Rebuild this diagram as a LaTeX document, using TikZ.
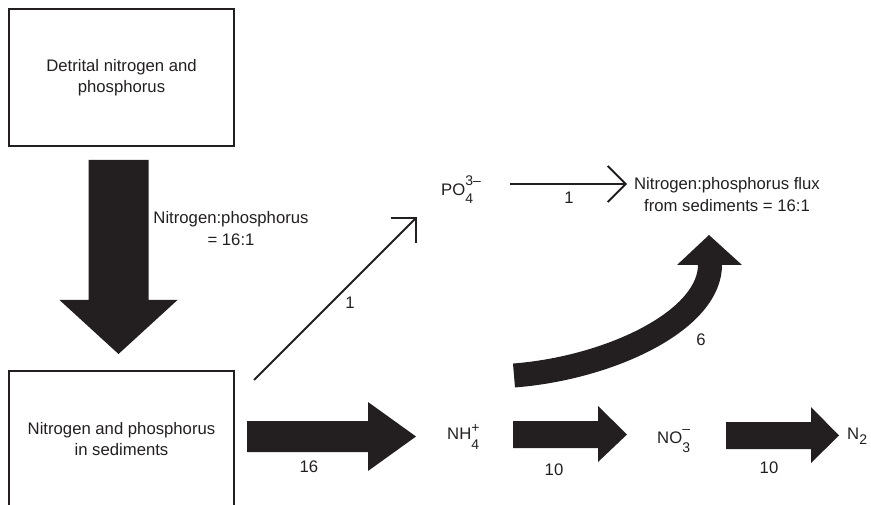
\documentclass[tikz,border=0pt]{standalone}
\usepackage{fontspec}
\setmainfont{Liberation Sans}
\usetikzlibrary{arrows.meta}
\definecolor{ink}{RGB}{35,31,32}
\newcommand{\smallfs}{\fontsize{14}{14}\selectfont}
\newcommand{\chemion}[5]{#1\makebox[0pt][l]{\raisebox{#4}{\smallfs #3}}\raisebox{#5}{\smallfs #2}}
\begin{document}
\begin{tikzpicture}[x=1pt,y=-1pt,
  box/.style={draw=ink,line width=1.1pt,minimum width=225pt,minimum height=137pt,
    align=center,inner sep=0pt,font=\fontsize{16.7}{21}\selectfont,text=ink},
  lbl/.style={inner sep=0pt,align=center,font=\fontsize{16.7}{22}\selectfont,text=ink},
  thinarrow/.style={draw=ink,line width=1.8pt,-{Straight Barb[length=18pt,width=36pt,line width=1.8pt]}},
  blockfill/.style={fill=ink,draw=none}]
\useasboundingbox (0,0) rectangle (871,505);
\clip (0,0) rectangle (871,505);
% boxes
\node[box] (det) at (121.5,77.5) {Detrital nitrogen and\\phosphorus};
\node[box,minimum height=136pt] (sed) at (121.5,439) {Nitrogen and phosphorus\\in sediments};
% labels and species
\node[lbl] (np) at (231,229) {Nitrogen:phosphorus\\= 16:1};
\node[lbl,anchor=base west] (po) at (441,196) {\chemion{PO}{4}{3–}{0.62em}{-0.45em}};
\node[lbl] (flux) at (727,195) {Nitrogen:phosphorus flux\\from sediments = 16:1};
\node[lbl,anchor=base west] (nh) at (447,439) {\chemion{NH}{4}{+}{0.4em}{-0.6em}};
\node[lbl,anchor=base west] (no) at (657,443) {\chemion{NO}{3}{–}{0.55em}{-0.55em}};
\node[lbl,anchor=base west] (n2) at (847,439) {N\raisebox{-0.3em}{\smallfs 2}};
% big downward arrow
\fill[blockfill] (88.5,160) -- (148.5,160) -- (148.5,300) -- (177.5,300) -- (118.5,354)
  -- (59.5,300) -- (88.5,300) -- cycle;
% thin arrows
\coordinate (d0) at (254,380);
\coordinate (d1) at (417,217);
\draw[thinarrow] (d0) -- (d1);
\node[lbl] (l1a) at (350,303) {1};
\coordinate (h0) at (510,184);
\coordinate (h1) at (627,184);
\draw[thinarrow] (h0) -- (h1);
\node[lbl] (l1b) at (569,198) {1};
% curved thick arrow
\draw[ink,line width=24pt] (514,375.5) .. controls (610,368) and (712,320) .. (710,263);
\fill[blockfill] (677,265) -- (709,235) -- (742,265) -- cycle;
\node[lbl] (l6) at (701,340) {6};
% bottom block arrows
\fill[blockfill] (247,421) -- (368,421) -- (368,402) -- (416,436.5) -- (368,471) -- (368,452) -- (247,452) -- cycle;
\node[lbl] (l16) at (309,467) {16};
\fill[blockfill] (513,421) -- (598,421) -- (598,406) -- (627,434.5) -- (598,462) -- (598,448) -- (513,448) -- cycle;
\node[lbl] (l10a) at (554,470) {10};
\fill[blockfill] (726,422) -- (811,422) -- (811,407) -- (839,435.5) -- (811,463) -- (811,449) -- (726,449) -- cycle;
\node[lbl] (l10b) at (769,468) {10};
\end{tikzpicture}
\end{document}
